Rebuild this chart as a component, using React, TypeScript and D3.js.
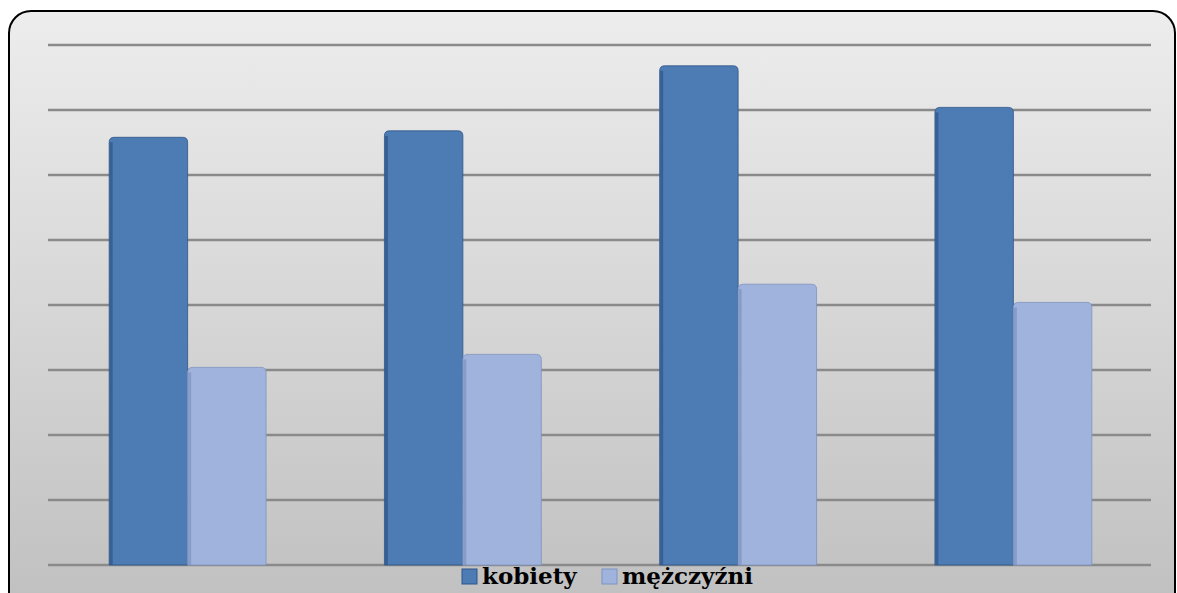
import React, { useEffect, useRef } from 'react';
import * as d3 from 'd3';

// groups have no labels on the original chart
const groups = ['1', '2', '3', '4'];
const seriesNames = ['kobiety', 'mężczyźni'];
const kobiety = [32.9, 33.4, 38.4, 35.2];
const mezczyzni = [15.2, 16.2, 21.6, 20.2];
const yTicks = [0, 5, 10, 15, 20, 25, 30, 35, 40];

const colors = ['#4d7bb3', '#a0b3dc'];
const edgeColors = ['#2f5687', '#7d93c2'];

const Chart = () => {
  const svgRef = useRef<SVGSVGElement>(null);

  useEffect(() => {
    const svg = d3.select(svgRef.current);
    const width = 1177;
    const height = 593;
    const margin = { top: 45, right: 26, bottom: 28, left: 48 };

    svg.attr('width', width).attr('height', height);

    // background gradient
    const defs = svg.append('defs');
    const bg = defs
      .append('linearGradient')
      .attr('id', 'bg')
      .attr('x1', 0)
      .attr('y1', 0)
      .attr('x2', 0)
      .attr('y2', 1);
    bg.append('stop').attr('offset', '0%').attr('stop-color', '#ededed');
    bg.append('stop').attr('offset', '100%').attr('stop-color', '#bfbfbf');

    svg
      .append('rect')
      .attr('x', 9)
      .attr('y', 11)
      .attr('width', 1166)
      .attr('height', 610)
      .attr('rx', 22)
      .attr('fill', 'url(#bg)')
      .attr('stroke', '#000')
      .attr('stroke-width', 2);

    const x0 = d3
      .scaleBand()
      .domain(groups)
      .range([margin.left + 2, width - margin.right])
      .paddingInner(0.43)
      .paddingOuter(0.215);

    const x1 = d3.scaleBand().domain(seriesNames).range([0, x0.bandwidth()]);

    const y = d3
      .scaleLinear()
      .domain([0, 40])
      .range([height - margin.bottom, margin.top]);

    // gridlines
    svg
      .append('g')
      .selectAll('line')
      .data(yTicks)
      .enter()
      .append('line')
      .attr('x1', margin.left)
      .attr('x2', width - margin.right)
      .attr('y1', (d) => y(d))
      .attr('y2', (d) => y(d))
      .attr('stroke', '#8a8a8a')
      .attr('stroke-width', 2.5);

    const rows = groups.map((g, i) => ({ g, values: [kobiety[i], mezczyzni[i]] }));

    const barPath = (bx: number, by: number, bw: number, bh: number, r: number) =>
      `M${bx},${by + bh}V${by + r}Q${bx},${by} ${bx + r},${by}H${bx + bw - r}Q${bx + bw},${by} ${bx + bw},${by + r}V${by + bh}Z`;

    const groupSel = svg
      .append('g')
      .selectAll('g')
      .data(rows)
      .enter()
      .append('g')
      .attr('transform', (d) => `translate(${x0(d.g)},0)`);

    const bars = groupSel
      .selectAll('g')
      .data((d) => d.values.map((v, i) => ({ key: seriesNames[i], v, i })))
      .enter()
      .append('g');

    bars
      .append('path')
      .attr('d', (d) =>
        barPath(x1(d.key)!, y(d.v), x1.bandwidth(), y(0) - y(d.v), 5)
      )
      .attr('fill', (d) => colors[d.i])
      .attr('stroke', (d) => edgeColors[d.i])
      .attr('stroke-width', 0.8);

    // darker left edge
    bars
      .append('rect')
      .attr('x', (d) => x1(d.key)! + 0.5)
      .attr('y', (d) => y(d.v) + 5)
      .attr('width', 3)
      .attr('height', (d) => y(0) - y(d.v) - 5)
      .attr('fill', (d) => edgeColors[d.i])
      .attr('opacity', 0.7);

    // legend
    const legend = svg.append('g');
    const items = [
      { name: seriesNames[0], x: 462 },
      { name: seriesNames[1], x: 602 },
    ];
    items.forEach((it, i) => {
      legend
        .append('rect')
        .attr('x', it.x)
        .attr('y', 569)
        .attr('width', 15)
        .attr('height', 15)
        .attr('fill', colors[i])
        .attr('stroke', edgeColors[i])
        .attr('stroke-width', 1);
      legend
        .append('text')
        .attr('x', it.x + 20)
        .attr('y', 584)
        .attr('font-family', '"DejaVu Serif", serif')
        .attr('font-weight', 'bold')
        .attr('font-size', 23)
        .attr('fill', '#000')
        .text(it.name);
    });

    return () => {
      svg.selectAll('*').remove();
    };
  }, []);

  return <svg ref={svgRef} style={{ display: 'block' }}></svg>;
};

export default function App() {
  return (
    <div style={{ position: 'absolute', left: 0, top: 0 }}>
      <Chart />
    </div>
  );
}
